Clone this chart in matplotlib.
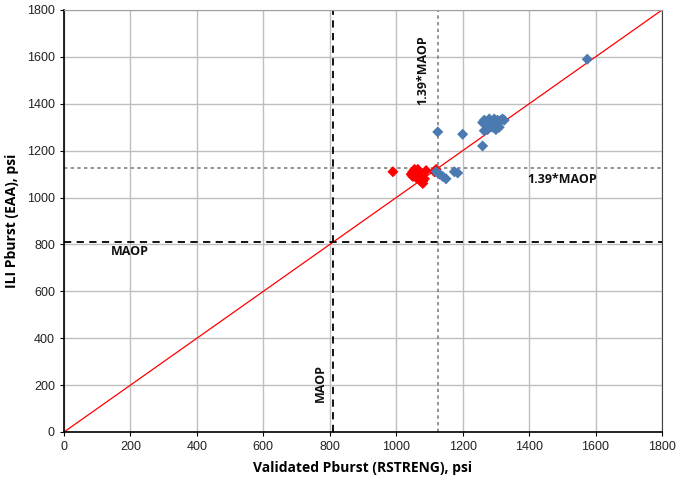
import matplotlib
matplotlib.use("Agg")
import matplotlib.pyplot as plt

maop = 810
maop139 = 1126

red_x = [990, 1045, 1050, 1055, 1060, 1065, 1070, 1075, 1080, 1080, 1085, 1090, 1050, 1060, 1070, 1120, 1115, 1048, 1062]
red_y = [1110, 1100, 1090, 1120, 1100, 1120, 1110, 1090, 1070, 1060, 1080, 1115, 1110, 1085, 1075, 1120, 1110, 1095, 1105]

blue_x = [1125, 1120, 1130, 1140, 1150, 1175, 1185, 1200, 1260, 1260, 1265, 1270, 1275, 1280, 1285,
          1290, 1295, 1300, 1305, 1310, 1315, 1320, 1325, 1300, 1265, 1575, 1280, 1290]
blue_y = [1280, 1110, 1100, 1090, 1080, 1110, 1105, 1270, 1220, 1320, 1330, 1310, 1290, 1330, 1320,
          1300, 1335, 1320, 1330, 1300, 1330, 1335, 1330, 1290, 1285, 1590, 1335, 1325]

ticks = [0, 200, 400, 600, 800, 1000, 1200, 1400, 1600, 1800]

fig = plt.figure(figsize=(6.76, 4.8), dpi=100)
ax = fig.add_axes([64/676, 48/480, 598/676, 422/480])
ax.set_xlim(0, 1800)
ax.set_ylim(0, 1800)
ax.set_xticks(ticks)
ax.set_yticks(ticks)
ax.grid(True, color="#bfbfbf", linewidth=1)
ax.set_axisbelow(True)
for lbl in ax.get_xticklabels() + ax.get_yticklabels():
    lbl.set_fontfamily("Liberation Sans")
    lbl.set_fontsize(9)
ax.tick_params(direction="out", length=3, colors="black", labelcolor="#222222")
ax.spines["top"].set_color("#a0a0a0")
ax.spines["right"].set_color("#404040")
ax.spines["left"].set_linewidth(1.2)
ax.spines["bottom"].set_linewidth(1.2)

ax.plot([0, 1800], [0, 1800], color="red", linewidth=0.9, zorder=2)
ax.axvline(maop, color="black", linestyle=(0, (4, 3)), linewidth=1.3, zorder=2)
ax.axhline(maop, color="black", linestyle=(0, (4, 3)), linewidth=1.3, zorder=2)
ax.axvline(maop139, color="#808080", linestyle=(0, (2, 2)), linewidth=1.2, zorder=2)
ax.axhline(maop139, color="#808080", linestyle=(0, (2, 2)), linewidth=1.2, zorder=2)

ax.scatter(red_x, red_y, marker="D", s=32, color="red", edgecolors="none", zorder=3)
ax.scatter(blue_x, blue_y, marker="D", s=32, color="#4a7ab0", edgecolors="none", zorder=3)

bold = dict(fontfamily="Open Sans", fontweight="bold", fontsize=9, color="#111111")
ax.text(140, 770, "MAOP", ha="left", va="center", **bold)
ax.text(1395, 1075, "1.39*MAOP", ha="left", va="center", **bold)
ax.text(773, 210, "MAOP", ha="center", va="center", rotation=90, **bold)
ax.text(1080, 1545, "1.39*MAOP", ha="center", va="center", rotation=90, **bold)

ax.set_xlabel("Validated Pburst (RSTRENG), psi", fontfamily="Open Sans", fontweight="bold", fontsize=10, labelpad=6)
ax.set_ylabel("ILI Pburst (EAA), psi", fontfamily="Open Sans", fontweight="bold", fontsize=10, labelpad=6)

fig.savefig("out.png", dpi=100)
